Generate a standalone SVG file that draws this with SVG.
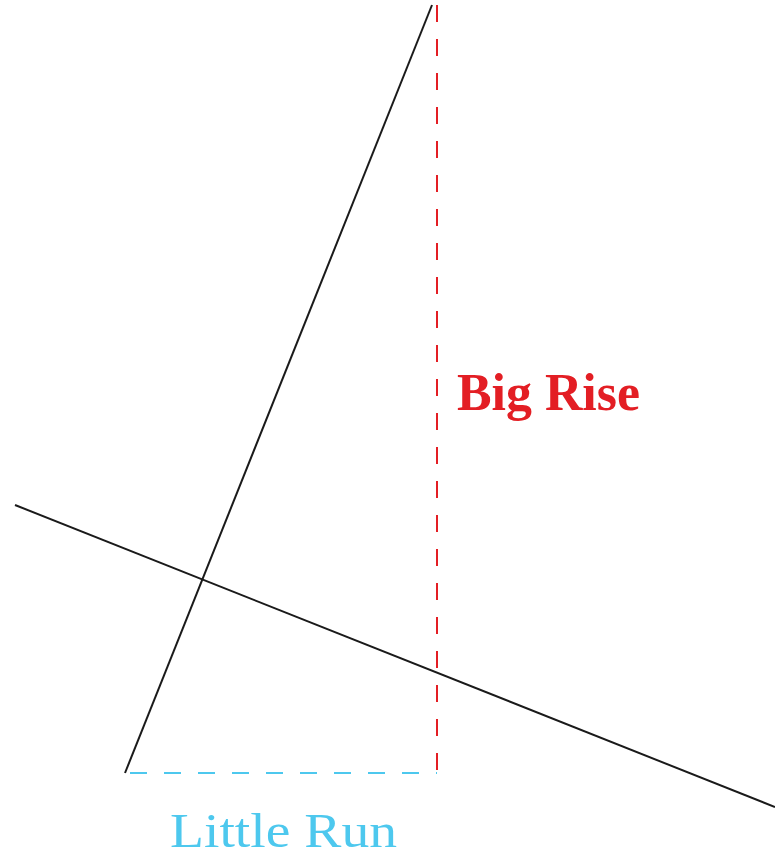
<svg xmlns="http://www.w3.org/2000/svg" width="775" height="858" viewBox="0 0 775 858">
<style>
.ln{stroke:#1a1a1a;stroke-width:2;fill:none}
.dash{stroke-width:2;fill:none;stroke-dasharray:17 17}
.red{stroke:#e31e24}
.blue{stroke:#4dc8ee}
.t{font-family:"Liberation Serif","DejaVu Serif",serif}
</style>
<rect width="775" height="858" fill="#ffffff"/>
<g id="connectors">
<line class="ln" x1="125" y1="773" x2="432" y2="5"/>
<line class="ln" x1="15" y1="505" x2="775" y2="807"/>
<line class="dash red" x1="437" y1="5" x2="437" y2="773"/>
<line class="dash blue" x1="130" y1="773" x2="437" y2="773"/>
</g>
<g id="big-rise">
<text class="t" x="457" y="410" font-size="52" font-weight="bold" fill="#e31e24" textLength="183" lengthAdjust="spacingAndGlyphs">Big Rise</text>
</g>
<g id="little-run">
<text class="t" x="170" y="847" font-size="48" fill="#4dc8ee" textLength="227" lengthAdjust="spacingAndGlyphs">Little Run</text>
</g>
</svg>
